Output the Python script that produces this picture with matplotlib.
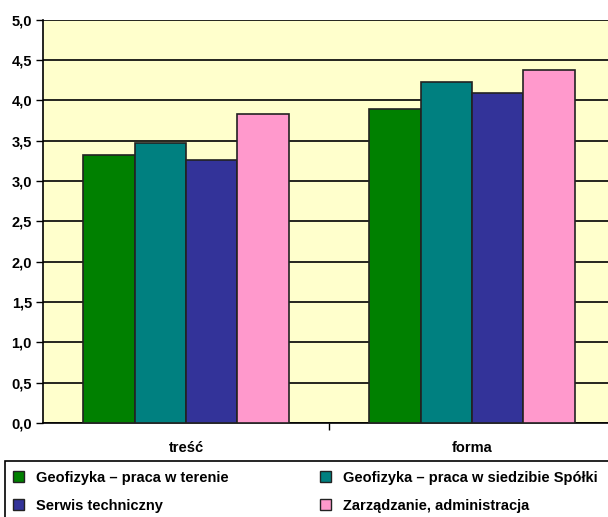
import matplotlib
matplotlib.use("Agg")
import matplotlib.pyplot as plt
from matplotlib.patches import Rectangle, Patch
import numpy as np

plt.rcParams['font.family'] = ['Liberation Sans', 'DejaVu Sans']
plt.rcParams['font.weight'] = 'bold'

categories = ["treść", "forma"]
series = [
    "Geofizyka – praca w terenie",
    "Geofizyka – praca w siedzibie Spółki",
    "Serwis techniczny",
    "Zarządzanie, administracja",
]
values = [
    [3.32, 3.89],
    [3.47, 4.23],
    [3.26, 4.09],
    [3.83, 4.37],
]
colors = ["#008000", "#008080", "#333399", "#FF99CC"]
yticks = [0.0, 0.5, 1.0, 1.5, 2.0, 2.5, 3.0, 3.5, 4.0, 4.5, 5.0]

W, H = 608, 517
fig = plt.figure(figsize=(W / 100, H / 100), dpi=100)
fig.patch.set_facecolor("white")

ax = fig.add_axes([43 / W, 1 - 423 / H, (615 - 43) / W, (423 - 19.5) / H])
ax.set_facecolor("#FFFFCC")

x = np.arange(len(categories))
bw = 0.18
for i, (vals, c) in enumerate(zip(values, colors)):
    ax.bar(x + (i - 1.5) * bw, vals, width=bw, color=c, edgecolor="#222222",
           linewidth=1.2, zorder=3)

ax.set_xlim(-0.5, 1.5)
ax.set_ylim(0, 5)
ax.set_yticks(yticks)
ax.set_yticklabels([f"{v:.1f}".replace(".", ",") for v in yticks], fontsize=10.5,
                   fontweight="bold")
ax.yaxis.grid(True, color="black", linewidth=1.2, zorder=1)
ax.set_axisbelow(True)

ax.set_xticks([0.5])
ax.set_xticklabels([])
ax.xaxis.set_minor_locator(matplotlib.ticker.FixedLocator(x))
ax.set_xticklabels(categories, minor=True, fontsize=10.5, fontweight="bold")
ax.tick_params(axis="x", which="minor", length=0, pad=13)
ax.tick_params(axis="x", which="major", length=5, width=1, color="black")
ax.tick_params(axis="y", length=5, width=1, pad=3, color="black")

for s in ["top", "right"]:
    ax.spines[s].set_visible(False)
for s in ["left", "bottom"]:
    ax.spines[s].set_color("black")
    ax.spines[s].set_linewidth(1.2)

# Legend frame and entries
fig.add_artist(Rectangle((5 / W, -0.05), 1.1, (517 - 461) / H + 0.05,
                         transform=fig.transFigure, facecolor="white",
                         edgecolor="black", linewidth=1.2, zorder=0))
handles = [Patch(facecolor=c, edgecolor="#222222", linewidth=1.0) for c in colors]
order = [0, 2, 1, 3]
leg = fig.legend([handles[i] for i in order], [series[i] for i in order],
                 ncol=2, loc="upper left", bbox_to_anchor=(10 / W, 1 - 468 / H),
                 frameon=False, fontsize=10.5, handlelength=0.75, handleheight=0.75,
                 handletextpad=0.8, labelspacing=0.95, columnspacing=6.3,
                 borderaxespad=0, borderpad=0.2)

fig.savefig("out.png", dpi=100)
